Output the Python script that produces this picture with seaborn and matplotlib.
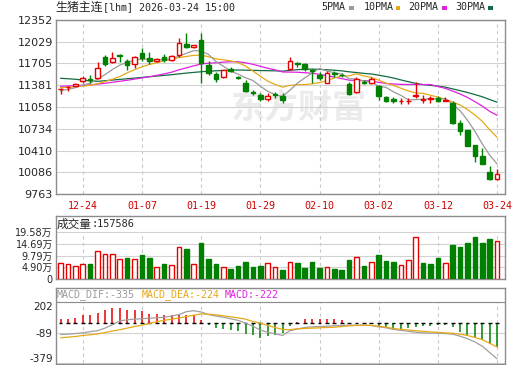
import numpy as np
import pandas as pd
import seaborn as sns
import matplotlib.pyplot as plt
from matplotlib.patches import Rectangle

### DATA ###
opens = [11320, 11352, 11375, 11450, 11475, 11495, 11805, 11720, 11825, 11740,
         11695, 11855, 11780, 11735, 11795, 11760, 11830, 12000, 11945, 12055,
         11680, 11545, 11500, 11625, 11505, 11410, 11285, 11235, 11180, 11245,
         11225, 11620, 11715, 11690, 11615, 11540, 11420, 11565, 11540, 11400,
         11285, 11425, 11420, 11370, 11210, 11170, 11140, 11140, 11225, 11165,
         11180, 11195, 11150, 11115, 10825, 10715, 10490, 10330, 10095, 9980]
highs = [11335, 11370, 11420, 11520, 11535, 11725, 11830, 11880, 11845, 11775,
         11815, 11930, 11880, 11790, 11845, 11835, 12080, 12155, 11985, 12155,
         11735, 11575, 11615, 11650, 11525, 11460, 11310, 11260, 11260, 11280,
         11260, 11805, 11730, 11705, 11625, 11580, 11595, 11590, 11560, 11435,
         11510, 11460, 11500, 11385, 11225, 11200, 11185, 11190, 11435, 11235,
         11220, 11225, 11200, 11140, 10865, 10720, 10495, 10445, 10180, 10130]
lows = [11250, 11290, 11365, 11410, 11420, 11480, 11670, 11705, 11730, 11610,
        11635, 11735, 11700, 11720, 11725, 11735, 11805, 11930, 11935, 11410,
        11530, 11435, 11490, 11585, 11470, 11275, 11235, 11145, 11150, 11195,
        11120, 11610, 11660, 11600, 11420, 11460, 11410, 11510, 11500, 11235,
        11260, 11400, 11400, 11160, 11130, 11110, 11100, 11100, 11190, 11110,
        11110, 11130, 11140, 10810, 10640, 10470, 10245, 10205, 9975, 9975]
closes = [11330, 11362, 11400, 11490, 11465, 11640, 11700, 11780, 11815, 11675,
          11805, 11780, 11745, 11765, 11750, 11810, 12005, 11945, 11975, 11715,
          11560, 11475, 11605, 11600, 11490, 11295, 11270, 11180, 11225, 11230,
          11160, 11740, 11700, 11620, 11600, 11485, 11570, 11555, 11530, 11250,
          11470, 11415, 11480, 11225, 11150, 11145, 11150, 11152, 11240, 11175,
          11190, 11140, 11160, 10815, 10705, 10480, 10330, 10210, 9980, 10055]

volumes = [65700, 61500, 54000, 62700, 62700, 117000, 103000, 103000, 83700, 89000,
           83700, 100000, 89000, 51600, 62700, 58600, 132500, 125500, 62700, 150600,
           83700, 62700, 48800, 41800, 54400, 69700, 51600, 55800, 65700, 50200,
           37600, 69700, 65700, 47400, 69700, 47400, 50200, 41800, 37600, 79500,
           90600, 54400, 69700, 100000, 75300, 69700, 57200, 79500, 174300, 65700,
           62700, 89000, 65700, 142000, 135000, 150600, 174300, 150600, 167000, 157586]
vol_up = [1, 1, 1, 1, 0, 1, 1, 1, 1, 0,
          1, 0, 0, 1, 0, 1, 1, 0, 1, 0,
          0, 0, 1, 0, 0, 0, 0, 0, 1, 1,
          0, 1, 0, 0, 0, 0, 1, 0, 0, 0,
          1, 0, 1, 0, 0, 0, 1, 1, 1, 0,
          0, 0, 1, 0, 0, 0, 0, 0, 0, 1]

# moving-average values before a full window exists
ma5_head = [11300, 11320, 11345, 11385]
ma10_head = [11345, 11350, 11358, 11368, 11380, 11405, 11435, 11470, 11510]
ma20_head = [11365, 11370, 11375, 11380, 11385, 11398, 11410, 11425, 11440, 11455,
             11472, 11490, 11508, 11528, 11550, 11575, 11610, 11640, 11670]
ma30_head = [11485, 11478, 11470, 11460, 11445, 11440, 11448, 11458, 11468, 11478,
             11488, 11498, 11508, 11518, 11528, 11538, 11550, 11562, 11572, 11582,
             11590, 11596, 11602, 11606, 11608, 11606, 11603, 11600, 11598]

dif = [-106, -103, -97, -91, -79, -70, -46, -15, 21, 33,
       39, 42, 48, 51, 57, 67, 82, 109, 118, 106,
       82, 68, 57, 42, 27, 0, -28, -64, -85, -100,
       -115, -70, -55, -40, -34, -31, -28, -24, -21, -18,
       -18, -18, -21, -34, -43, -58, -67, -76, -85, -91,
       -94, -94, -97, -103, -122, -146, -176, -216, -276, -335]
dea = [-137, -131, -125, -115, -109, -100, -88, -73, -61, -46,
       -31, -18, -3, 15, 27, 39, 48, 63, 76, 88,
       85, 79, 70, 60, 51, 39, 16, 0, -21, -40,
       -58, -61, -52, -49, -46, -43, -40, -37, -31, -24,
       -21, -18, -21, -28, -37, -49, -58, -64, -70, -76,
       -82, -85, -91, -94, -103, -115, -134, -155, -188, -224]
macd_bar = [42, 42, 52, 73, 82, 97, 121, 143, 143, 127,
            121, 112, 91, 88, 82, 73, 73, 82, 82, 30,
            -15, -45, -55, -64, -76, -100, -115, -136, -124, -115,
            -94, -30, 15, 42, 42, 36, 42, 42, 27, 6,
            2, 6, -6, -33, -39, -61, -55, -49, -39, -30,
            -24, -18, -18, -39, -85, -106, -130, -161, -191, -222]

date_pos = [3, 11, 19, 27, 35, 43, 51, 59]
date_labels = ['12-24', '01-07', '01-19', '01-29', '02-10', '03-02', '03-12', '03-24']
price_ticks = [12352, 12029, 11705, 11381, 11058, 10734, 10410, 10086, 9763]
vol_ticks = [0, 48950, 97900, 146850, 195800]
vol_tick_labels = ['0', '4.90万', '9.79万', '14.69万', '19.58万']
macd_ticks = [202, -89, -379]

### SETUP ###
sns.set_style('white')
plt.rcParams['font.family'] = ['DejaVu Sans', 'Noto Sans CJK SC']
MONO = ['DejaVu Sans Mono', 'Noto Sans CJK SC']
CJK = ['Noto Sans CJK SC', 'DejaVu Sans']

RED = '#e60000'
GREEN = '#008000'
C5, C10, C20, C30 = '#9a9a9a', '#e6a817', '#e020e0', '#136b43'
SPINE = '#8c8c8c'
GRID = '#d2d2d2'

df = pd.DataFrame({'idx': np.arange(len(closes)), 'open': opens, 'high': highs,
                   'low': lows, 'close': closes, 'vol': volumes, 'vol_up': vol_up,
                   'dif': dif, 'dea': dea, 'macd': macd_bar})
for n, head in [(5, ma5_head), (10, ma10_head), (20, ma20_head), (30, ma30_head)]:
    s = df['close'].rolling(n).mean()
    s.iloc[:n - 1] = head
    df['ma%d' % n] = s

W, H = 520, 365
fig = plt.figure(figsize=(W / 100, H / 100), dpi=100, facecolor='white')


def panel(l, t, r, b):
    a = fig.add_axes([l / W, 1 - b / H, (r - l) / W, (b - t) / H])
    for sp in a.spines.values():
        sp.set_color(SPINE)
        sp.set_linewidth(1)
    a.set_xlim(-0.68, 60.07)
    a.tick_params(length=0)
    return a


ax = panel(55.5, 20, 505, 194)
axv = panel(55.5, 215.7, 505, 279)
axm = panel(55.5, 288.3, 505, 363.5)

### PRICE PANEL ###
ax.set_ylim(9763, 12352)
ax.set_yticks(price_ticks)
ax.set_yticklabels([str(v) for v in price_ticks], fontsize=8)
ax.set_xticks(date_pos)
ax.set_xticklabels(date_labels, fontsize=7.2, color='#d00000', family=MONO)
ax.tick_params(axis='x', pad=5)
ax.tick_params(axis='y', pad=2)
ax.yaxis.grid(True, color=GRID, lw=0.8)
ax.xaxis.grid(True, color='#c8c8c8', lw=0.8, linestyle=(0, (3, 3)))
ax.set_axisbelow(True)

ax.text(0.542, 0.494, '东方财富', transform=ax.transAxes, ha='center', va='center',
        fontsize=24.5, fontweight='bold', color='#ebebeb', family=CJK, zorder=0.5)

x = df['idx'].values
o = df['open'].values
c = df['close'].values
up = c >= o
ax.vlines(x, df['low'], df['high'], colors=np.where(up, RED, GREEN), lw=1, zorder=3)
bottom = np.minimum(o, c)
height = np.maximum(np.abs(c - o), 6)
ax.bar(x[up], height[up], bottom=bottom[up], width=0.62, facecolor='white',
       edgecolor=RED, lw=1, zorder=4)
ax.bar(x[~up], height[~up], bottom=bottom[~up], width=0.62, facecolor=GREEN,
       edgecolor=GREEN, lw=1, zorder=4)

for col, color in [('ma30', C30), ('ma20', C20), ('ma10', C10), ('ma5', C5)]:
    sns.lineplot(data=df, x='idx', y=col, ax=ax, color=color, linewidth=0.9,
                 legend=False, zorder=2.5)
ax.set_xlabel('')
ax.set_ylabel('')

### VOLUME PANEL ###
axv.set_ylim(0, 265400)
axv.set_yticks(vol_ticks)
axv.set_yticklabels(vol_tick_labels, fontsize=7, family=['DejaVu Sans', 'Noto Sans CJK SC'])
axv.tick_params(axis='y', pad=2)
axv.set_xticks([])
axv.yaxis.grid(True, color=GRID, lw=0.8)
axv.set_axisbelow(True)
axv.vlines(date_pos, 0, 195800, color='#c8c8c8', lw=0.8, linestyle=(0, (3, 3)), zorder=0.5)
vu = df['vol_up'].values == 1
axv.bar(x[vu], df['vol'].values[vu], width=0.62, facecolor='white', edgecolor=RED, lw=1, zorder=3)
axv.bar(x[~vu], df['vol'].values[~vu], width=0.62, facecolor=GREEN, edgecolor=GREEN, lw=1, zorder=3)

### MACD PANEL ###
axm.set_ylim(-379, 329)
axm.set_yticks(macd_ticks)
axm.set_yticklabels([str(v) for v in macd_ticks], fontsize=7.5)
axm.tick_params(axis='y', pad=2)
labs = axm.get_yticklabels()
labs[0].set_va('top')
labs[2].set_va('bottom')
axm.set_xticks([])
axm.yaxis.grid(True, color=GRID, lw=0.8)
axm.axhline(202, color=SPINE, lw=0.8, zorder=1)
axm.set_axisbelow(True)
axm.vlines(date_pos, -379, 202, color='#c8c8c8', lw=0.8, linestyle=(0, (3, 3)), zorder=0.5)
mb = df['macd'].values
axm.vlines(x, 0, mb, colors=np.where(mb >= 0, RED, GREEN), lw=1.1, zorder=3)
axm.hlines(np.zeros(len(x)), x - 0.25, x + 0.25, colors='black', lw=1, zorder=3.5)
sns.lineplot(data=df, x='idx', y='dif', ax=axm, color='#a0a0a0', linewidth=0.9, legend=False, zorder=4)
sns.lineplot(data=df, x='idx', y='dea', ax=axm, color=C10, linewidth=0.9, legend=False, zorder=4)
axm.set_xlabel('')
axm.set_ylabel('')

### TEXTS ###
def ftext(px, py, s, **kw):
    fig.text(px / W, 1 - py / H, s, va='center', ha='left', **kw)


ftext(55, 7.5, '生猪主连', fontsize=8.6, family=CJK)
ftext(103, 7.5, '[lhm] 2026-03-24 15:00', fontsize=7.2, family=MONO)

legend_items = [('5PMA', C5, 321.7, 349), ('10PMA', C10, 363.3, 395.7),
                ('20PMA', C20, 408.3, 442.3), ('30PMA', C30, 455, 488.3)]
for name, color, tx, sx in legend_items:
    ftext(tx, 7.5, name, fontsize=7.2, family=MONO)
    fig.patches.append(Rectangle((sx / W, 1 - 9.5 / H), 4.5 / W, 4 / H,
                                 transform=fig.transFigure, facecolor=color,
                                 edgecolor='none'))

ftext(57, 224, '成交量', fontsize=8.4, family=CJK)
ftext(92, 224, ':157586', fontsize=7.4, family=MONO)

ftext(56.7, 295, 'MACD_DIF:-335', fontsize=7.2, family=MONO, color='#9a9a9a')
ftext(141.7, 295, 'MACD_DEA:-224', fontsize=7.2, family=MONO, color=C10)
ftext(225, 295, 'MACD:-222', fontsize=7.2, family=MONO, color=C20)

fig.savefig('out.png', dpi=100, facecolor='white')
